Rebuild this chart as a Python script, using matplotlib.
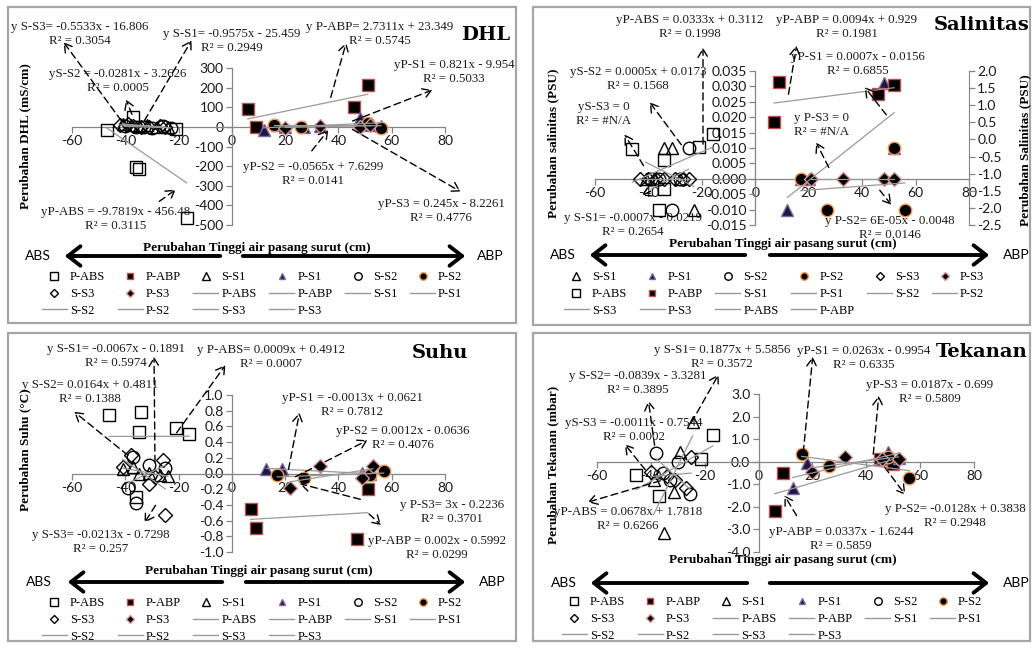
import numpy as np
import matplotlib
matplotlib.use('Agg')
import matplotlib.pyplot as plt
from matplotlib.lines import Line2D
from matplotlib.patches import Rectangle, FancyArrowPatch
from matplotlib.ticker import FormatStrFormatter

plt.rcParams['font.family'] = ['Lato', 'DejaVu Sans']
plt.rcParams['axes.unicode_minus'] = False

W, H = 1036, 648
SERIF = 'Liberation Serif'
TREND = '#9a9a9a'
AXCOL = '#868686'

# ---------------- data ----------------
xticks = [-60, -40, -20, 0, 20, 40, 60, 80]

# DHL (mS/cm)
dhl_pabs_x = [-47, -37, -36, -35, -21, -17]
dhl_pabs_y = [-15, 50, -205, -215, -10, -465]
dhl_pabp_x = [6, 9, 46, 51]
dhl_pabp_y = [92, 0, 102, 214]
dhl_ss1_x = [-41, -38, -35, -32, -28, -24]
dhl_ss1_y = [15, 12, 5, 8, 0, -3]
dhl_ps1_x = [12, 17, 20, 27, 33, 48, 52, 56]
dhl_ps1_y = [-15, 10, 0, 0, 5, 45, 12, 5]
dhl_ss2_x = [-40, -36, -33, -30, -26, -23]
dhl_ss2_y = [5, -2, 0, -5, 3, -8]
dhl_ps2_x = [16, 26, 51, 56]
dhl_ps2_y = [10, 0, 20, -5]
dhl_ss3_x = [-42, -39, -37, -34, -31, -27, -25]
dhl_ss3_y = [10, 15, 5, 0, -3, 5, 0]
dhl_ps3_x = [20, 33, 48, 52]
dhl_ps3_y = [-5, 5, 0, 10]
dhl_yticks = [-500, -400, -300, -200, -100, 0, 100, 200, 300]

# Salinitas (PSU); P-ABS and P-ABP sit on the secondary axis
sal_ss1_x = [-41, -38, -34, -31, -28, -23]
sal_ss1_y = [0, 0, 0.010, 0.010, 0, -0.010]
sal_ps1_x = [12, 17, 20, 48, 52]
sal_ps1_y = [-0.010, 0, 0, 0.031, 0.010]
sal_ss2_x = [-39, -36, -31, -28, -25]
sal_ss2_y = [0, 0, -0.010, 0, 0.010]
sal_ps2_x = [17, 27, 52, 56]
sal_ps2_y = [0, -0.010, 0.010, -0.010]
sal_ss3_x = [-43, -40, -37, -34, -30, -27, -25]
sal_ss3_y = [0, 0, 0, 0, 0, 0, 0]
sal_ps3_x = [21, 33, 48, 52]
sal_ps3_y = [0, 0, 0, 0]
sal_pabs_x = [-46, -36, -34, -34, -21, -16]
sal_pabs_y = [-0.28, -2.06, -0.60, -1.45, -0.22, 0.16]
sal_pabp_x = [7, 9, 46, 52]
sal_pabp_y = [0.51, 1.68, 1.33, 1.59]
sal_yticks = [-0.015, -0.010, -0.005, 0.0, 0.005, 0.010, 0.015,
              0.020, 0.025, 0.030, 0.035]
sal_y2ticks = [-2.5, -2.0, -1.5, -1.0, -0.5, 0.0, 0.5, 1.0, 1.5, 2.0]

# Suhu (°C)
suhu_pabs_x = [-46, -36, -35, -34, -21, -16]
suhu_pabs_y = [0.75, -0.30, 0.53, 0.78, 0.58, 0.50]
suhu_pabp_x = [7, 9, 47, 51]
suhu_pabp_y = [-0.45, -0.69, -0.83, -0.20]
suhu_ss1_x = [-41, -37, -35, -31, -27, -24]
suhu_ss1_y = [0.06, 0.08, 0.0, 0.01, -0.02, -0.03]
suhu_ps1_x = [13, 19, 49, 52]
suhu_ps1_y = [0.06, 0.06, 0.01, -0.01]
suhu_ss2_x = [-39, -37, -36, -31, -25]
suhu_ss2_y = [-0.18, 0.21, -0.38, 0.11, 0.07]
suhu_ps2_x = [17, 27, 52, 57]
suhu_ps2_y = [-0.02, -0.06, -0.02, 0.03]
suhu_ss3_x = [-41, -38, -31, -29, -26, -25]
suhu_ss3_y = [0.08, 0.23, -0.13, -0.05, 0.17, -0.53]
suhu_ps3_x = [22, 33, 49, 53]
suhu_ps3_y = [-0.18, 0.09, -0.06, 0.10]
suhu_yticks = [-1.0, -0.8, -0.6, -0.4, -0.2, 0.0, 0.2, 0.4, 0.6, 0.8, 1.0]

# Tekanan (mbar)
tek_pabs_x = [-45.5, -37, -21.5, -17]
tek_pabs_y = [-0.6, -1.5, 0.1, 1.2]
tek_pabp_x = [6, 9, 45, 50]
tek_pabp_y = [-2.2, -0.5, 0.1, -0.1]
tek_ss1_x = [-39, -35, -31.5, -29, -24.5]
tek_ss1_y = [-0.8, -3.15, -1.33, 0.45, 1.77]
tek_ps1_x = [12.6, 18, 48, 52]
tek_ps1_y = [-1.15, -0.05, 0.45, 0.15]
tek_ss2_x = [-38, -35.5, -33, -30, -25.5]
tek_ss2_y = [0.4, -0.5, -0.8, 0.0, -1.45]
tek_ps2_x = [16, 26, 48, 56]
tek_ps2_y = [0.35, -0.2, 0.2, -0.7]
tek_ss3_x = [-40, -34, -31, -27, -25]
tek_ss3_y = [-0.45, -0.65, -0.8, -1.15, 0.2]
tek_ps3_x = [20, 32, 46, 52]
tek_ps3_y = [-0.45, 0.22, 0.1, 0.12]
tek_yticks = [-4, -3, -2, -1, 0, 1, 2, 3]

# equation labels
dhl_eqs = ['y S-S3= -0.5533x - 16.806\nR² = 0.3054',
           'y S-S1= -0.9575x - 25.459\nR² = 0.2949',
           'yS-S2 = -0.0281x - 3.2626\nR² = 0.0005',
           'y P-ABP= 2.7311x + 23.349\nR² = 0.5745',
           'yP-S1 = 0.821x - 9.954\nR² = 0.5033',
           'yP-S2 = -0.0565x + 7.6299\nR² = 0.0141',
           'yP-S3 = 0.245x - 8.2261\nR² = 0.4776',
           'yP-ABS = -9.7819x - 456.48\nR² = 0.3115']
sal_eqs = ['yP-ABS = 0.0333x + 0.3112\nR² = 0.1998',
           'yP-ABP = 0.0094x + 0.929\nR² = 0.1981',
           'yP-S1 = 0.0007x - 0.0156\nR² = 0.6855',
           'yS-S2 = 0.0005x + 0.0173\nR² = 0.1568',
           'yS-S3 = 0\nR² = #N/A',
           'y P-S3 = 0\nR² = #N/A',
           'y S-S1= -0.0007x - 0.0219\nR² = 0.2654',
           'y P-S2= 6E-05x - 0.0048\nR² = 0.0146']
suhu_eqs = ['y S-S1= -0.0067x - 0.1891\nR² = 0.5974',
            'y P-ABS= 0.0009x + 0.4912\nR² = 0.0007',
            'y S-S2= 0.0164x + 0.4811\nR² = 0.1388',
            'yP-S1 = -0.0013x + 0.0621\nR² = 0.7812',
            'yP-S2 = 0.0012x - 0.0636\nR² = 0.4076',
            'y P-S3= 3x - 0.2236\nR² = 0.3701',
            'yP-ABP = 0.002x - 0.5992\nR² = 0.0299',
            'y S-S3= -0.0213x - 0.7298\nR² = 0.257']
tek_eqs = ['y S-S1= 0.1877x + 5.5856\nR² = 0.3572',
           'yP-S1 = 0.0263x - 0.9954\nR² = 0.6335',
           'y S-S2= -0.0839x - 3.3281\nR² = 0.3895',
           'yP-S3 = 0.0187x - 0.699\nR² = 0.5809',
           'yS-S3 = -0.0011x - 0.7544\nR² = 0.0002',
           'yP-ABS = 0.0678x + 1.7818\nR² = 0.6266',
           'y P-S2= -0.0128x + 0.3838\nR² = 0.2948',
           'yP-ABP = 0.0337x - 1.6244\nR² = 0.5859']

# ---------------- layout (pixels from top-left) ----------------
# label centre, arrow tail, arrow head
dhl_eq_pos = [((80, 34), (123, 123), (62, 40)),
              ((232, 41), (143, 123), (193, 38)),
              ((118, 81), (133, 117), (125, 97)),
              ((380, 34), (330, 100), (347, 40)),
              ((454, 72), (350, 122), (435, 89)),
              ((313, 174), (310, 153), (330, 128)),
              ((441, 211), (350, 128), (463, 193)),
              ((116, 219), (157, 203), (178, 188))]
sal_eq_pos = [((690, 27), (703, 147), (703, 45)),
              ((847, 27), (788, 97), (797, 43)),
              ((858, 64), (888, 117), (863, 85)),
              ((638, 79), (683, 147), (648, 100)),
              ((604, 114), (645, 168), (623, 132)),
              ((822, 125), (830, 170), (815, 140)),
              ((633, 225), (653, 190), (639, 197)),
              ((890, 228), (878, 188), (893, 207))]
suhu_eq_pos = [((116, 356), (155, 465), (154, 354)),
               ((271, 357), (175, 435), (227, 363)),
               ((90, 392), (130, 457), (72, 410)),
               ((352, 405), (288, 472), (300, 410)),
               ((403, 438), (293, 478), (370, 439)),
               ((452, 512), (363, 500), (297, 483)),
               ((437, 548), (367, 512), (383, 527)),
               ((101, 542), (157, 503), (143, 525))]
tek_eq_pos = [((722, 357), (690, 425), (720, 372)),
              ((864, 358), (803, 455), (813, 354)),
              ((638, 383), (655, 448), (648, 398)),
              ((930, 392), (873, 457), (879, 393)),
              ((634, 430), (647, 472), (623, 442)),
              ((628, 519), (663, 480), (585, 503)),
              ((955, 516), (883, 465), (907, 497)),
              ((841, 539), (798, 518), (783, 493))]

STYLE = {
    'P-ABS': dict(marker='s', mfc='none', mec='black', ms=9),
    'P-ABP': dict(marker='s', mfc='black', mec='#C0504D', ms=8),
    'S-S1': dict(marker='^', mfc='none', mec='black', ms=9),
    'P-S1': dict(marker='^', mfc='#1c1840', mec='#8064A2', ms=8),
    'S-S2': dict(marker='o', mfc='none', mec='black', ms=9),
    'P-S2': dict(marker='o', mfc='black', mec='#F79646', ms=9),
    'S-S3': dict(marker='D', mfc='none', mec='black', ms=7),
    'P-S3': dict(marker='D', mfc='black', mec='#D99694', ms=7),
}
ORDER_A = ['P-ABS', 'P-ABP', 'S-S1', 'P-S1', 'S-S2', 'P-S2', 'S-S3', 'P-S3']
ORDER_B = ['S-S1', 'P-S1', 'S-S2', 'P-S2', 'S-S3', 'P-S3', 'P-ABS', 'P-ABP']

panels = [
    dict(box=(8, 7, 516, 323), axes=(72, 68, 445, 225), ylim=(-500, 300),
         yticks=dhl_yticks, fmt='%d', title='DHL', title_pos=(486, 35),
         ylabel='Perubahan DHL (mS/cm)', ylabel_pos=(25, 136),
         xtitle_pos=(257, 248), arrow_y=256, abs_x=38, abp_x=490,
         larr=(223, 62), rarr=(240, 468), leg=(48, 277), order=ORDER_A,
         eqs=dhl_eqs, eq_pos=dhl_eq_pos,
         series={'P-ABS': (dhl_pabs_x, dhl_pabs_y), 'P-ABP': (dhl_pabp_x, dhl_pabp_y),
                 'S-S1': (dhl_ss1_x, dhl_ss1_y), 'P-S1': (dhl_ps1_x, dhl_ps1_y),
                 'S-S2': (dhl_ss2_x, dhl_ss2_y), 'P-S2': (dhl_ps2_x, dhl_ps2_y),
                 'S-S3': (dhl_ss3_x, dhl_ss3_y), 'P-S3': (dhl_ps3_x, dhl_ps3_y)}),
    dict(box=(533, 7, 1030, 325), axes=(595, 71, 969, 225), ylim=(-0.015, 0.035),
         yticks=sal_yticks, fmt='%.3f', title='Salinitas', title_pos=(982, 25),
         ylabel='Perubahan salinitas (PSU)', ylabel_pos=(553, 143),
         y2label='Perubahan Salinitas (PSU)', y2label_pos=(1025, 150),
         y2lim=(-2.5, 2.0), y2ticks=sal_y2ticks, secondary=['P-ABS', 'P-ABP'],
         xtitle_pos=(783, 244), arrow_y=255, abs_x=563, abp_x=1016,
         larr=(748, 587), rarr=(767, 992), leg=(570, 277), order=ORDER_B,
         eqs=sal_eqs, eq_pos=sal_eq_pos,
         series={'P-ABS': (sal_pabs_x, sal_pabs_y), 'P-ABP': (sal_pabp_x, sal_pabp_y),
                 'S-S1': (sal_ss1_x, sal_ss1_y), 'P-S1': (sal_ps1_x, sal_ps1_y),
                 'S-S2': (sal_ss2_x, sal_ss2_y), 'P-S2': (sal_ps2_x, sal_ps2_y),
                 'S-S3': (sal_ss3_x, sal_ss3_y), 'P-S3': (sal_ps3_x, sal_ps3_y)}),
    dict(box=(8, 333, 516, 641), axes=(72, 395, 445, 552), ylim=(-1.0, 1.0),
         yticks=suhu_yticks, fmt='%.1f', title='Suhu', title_pos=(440, 353),
         ylabel='Perubahan Suhu (°C)', ylabel_pos=(25, 450),
         xtitle_pos=(259, 571), arrow_y=582, abs_x=39, abp_x=492,
         larr=(225, 65), rarr=(243, 468), leg=(48, 603), order=ORDER_A,
         eqs=suhu_eqs, eq_pos=suhu_eq_pos,
         series={'P-ABS': (suhu_pabs_x, suhu_pabs_y), 'P-ABP': (suhu_pabp_x, suhu_pabp_y),
                 'S-S1': (suhu_ss1_x, suhu_ss1_y), 'P-S1': (suhu_ps1_x, suhu_ps1_y),
                 'S-S2': (suhu_ss2_x, suhu_ss2_y), 'P-S2': (suhu_ps2_x, suhu_ps2_y),
                 'S-S3': (suhu_ss3_x, suhu_ss3_y), 'P-S3': (suhu_ps3_x, suhu_ps3_y)}),
    dict(box=(533, 333, 1030, 641), axes=(597, 394, 974, 552), ylim=(-4, 3),
         yticks=tek_yticks, fmt='%.1f', title='Tekanan', title_pos=(982, 352),
         ylabel='Perubahan Tekanan (mbar)', ylabel_pos=(553, 465),
         xtitle_pos=(783, 560), arrow_y=583, abs_x=564, abp_x=1016,
         larr=(750, 588), rarr=(767, 992), leg=(568, 602), order=ORDER_A,
         eqs=tek_eqs, eq_pos=tek_eq_pos,
         series={'P-ABS': (tek_pabs_x, tek_pabs_y), 'P-ABP': (tek_pabp_x, tek_pabp_y),
                 'S-S1': (tek_ss1_x, tek_ss1_y), 'P-S1': (tek_ps1_x, tek_ps1_y),
                 'S-S2': (tek_ss2_x, tek_ss2_y), 'P-S2': (tek_ps2_x, tek_ps2_y),
                 'S-S3': (tek_ss3_x, tek_ss3_y), 'P-S3': (tek_ps3_x, tek_ps3_y)}),
]


def fx(x):
    return x / W


def fy(y):
    return 1 - y / H


def style_axis(ax, ylim, yticks, fmt):
    ax.set_xlim(-60, 80)
    ax.set_ylim(*ylim)
    ax.set_xticks(xticks)
    ax.set_yticks(yticks)
    ax.yaxis.set_major_formatter(FormatStrFormatter(fmt))
    ax.spines['left'].set_position(('data', 0))
    ax.spines['bottom'].set_position(('data', 0))
    for s in ['top', 'right']:
        ax.spines[s].set_visible(False)
    for s in ['left', 'bottom']:
        ax.spines[s].set_color(AXCOL)
        ax.spines[s].set_linewidth(0.9)
    ax.tick_params(direction='out', length=4, width=0.9, color=AXCOL,
                   labelsize=10, labelcolor='#1a1a1a', pad=2)
    ax.patch.set_visible(False)


def trendline(ax, xs, ys):
    # linear least-squares trendline over the span of the series
    k, b = np.polyfit(xs, ys, 1)
    xx = np.array([min(xs), max(xs)])
    ax.plot(xx, k * xx + b, color=TREND, lw=0.9, zorder=4)


def row_major(items, ncol=6):
    nrow = -(-len(items) // ncol)
    out = []
    for c in range(ncol):
        for r in range(nrow):
            i = r * ncol + c
            if i < len(items):
                out.append(items[i])
    return out


def draw_panel(fig, p):
    x0, y0, x1, y1 = p['box']
    fig.add_artist(Rectangle((fx(x0), fy(y1)), fx(x1 - x0), (y1 - y0) / H,
                             transform=fig.transFigure, fill=False,
                             edgecolor='#a6a6a6', lw=1.6))
    a0, b0, a1, b1 = p['axes']
    ax = fig.add_axes([fx(a0), fy(b1), fx(a1 - a0), (b1 - b0) / H])
    style_axis(ax, p['ylim'], p['yticks'], p['fmt'])

    ax2 = None
    if 'y2lim' in p:
        ax2 = ax.twinx()
        ax2.set_ylim(*p['y2lim'])
        ax2.set_yticks(p['y2ticks'])
        ax2.yaxis.set_major_formatter(FormatStrFormatter('%.1f'))
        for s in ['left', 'top', 'bottom']:
            ax2.spines[s].set_visible(False)
        ax2.spines['right'].set_color(AXCOL)
        ax2.tick_params(direction='out', length=4, width=0.9, color=AXCOL,
                        labelsize=10, labelcolor='#1a1a1a', pad=2)

    for name in p['order']:
        xs, ys = p['series'][name]
        tgt = ax2 if (ax2 is not None and name in p.get('secondary', [])) else ax
        tgt.plot(xs, ys, ls='none', mew=1.0, zorder=3, clip_on=False,
                 **STYLE[name])
        trendline(tgt, xs, ys)

    # equations with dashed call-out arrows
    for txt, ((cx, cy), tail, head) in zip(p['eqs'], p['eq_pos']):
        fig.text(fx(cx), fy(cy), txt, ha='center', va='center',
                 multialignment='center', family=SERIF, fontsize=9.3,
                 linespacing=1.15, color='#1a1a1a')
        fig.add_artist(FancyArrowPatch((fx(tail[0]), fy(tail[1])),
                                       (fx(head[0]), fy(head[1])),
                                       transform=fig.transFigure,
                                       arrowstyle='->,head_length=0.5,head_width=0.3',
                                       mutation_scale=12, lw=1.0,
                                       linestyle=(0, (5, 3)), color='black'))

    fig.text(fx(p['title_pos'][0]), fy(p['title_pos'][1]), p['title'],
             ha='center', va='center', family='DejaVu Serif',
             fontweight='bold', fontsize=14)
    fig.text(fx(p['ylabel_pos'][0]), fy(p['ylabel_pos'][1]), p['ylabel'],
             rotation=90, ha='center', va='center', family=SERIF,
             fontweight='bold', fontsize=9.5)
    if 'y2label' in p:
        fig.text(fx(p['y2label_pos'][0]), fy(p['y2label_pos'][1]), p['y2label'],
                 rotation=90, ha='center', va='center', family=SERIF,
                 fontweight='bold', fontsize=9.5)
    fig.text(fx(p['xtitle_pos'][0]), fy(p['xtitle_pos'][1]),
             'Perubahan Tinggi air pasang surut (cm)', ha='center', va='center',
             family=SERIF, fontweight='bold', fontsize=9.5)

    # ABS <---   ---> ABP
    ay = fy(p['arrow_y'])
    fig.text(fx(p['abs_x']), ay, 'ABS', ha='center', va='center', fontsize=10)
    fig.text(fx(p['abp_x']), ay, 'ABP', ha='center', va='center', fontsize=10)
    for tail, head in [p['larr'], p['rarr']]:
        fig.add_artist(FancyArrowPatch((fx(tail), ay), (fx(head), ay),
                                       transform=fig.transFigure,
                                       arrowstyle='->,head_length=0.45,head_width=0.35',
                                       mutation_scale=20, lw=2.8, color='black'))

    # legend: markers then trendlines, filled row by row like Excel
    handles, labels = [], []
    for name in p['order']:
        handles.append(Line2D([], [], ls='none', mew=1.0, **STYLE[name]))
        labels.append(name)
    for name in p['order']:
        handles.append(Line2D([], [], color=TREND, lw=1.0))
        labels.append(name)
    items = row_major(list(zip(handles, labels)))
    lx, ly = p['leg']
    fig.legend([h for h, _ in items], [l for _, l in items],
               loc='upper left', bbox_to_anchor=(fx(lx - 12.5), fy(ly - 12)),
               ncol=6, frameon=False, borderpad=0, handlelength=2.0,
               handletextpad=0.25, columnspacing=1.0, labelspacing=0.38,
               markerscale=0.6, numpoints=1,
               prop={'family': SERIF, 'size': 9})


fig = plt.figure(figsize=(W / 100, H / 100), dpi=100)
fig.patch.set_facecolor('white')
for p in panels:
    draw_panel(fig, p)

fig.savefig('out.png', dpi=100)
